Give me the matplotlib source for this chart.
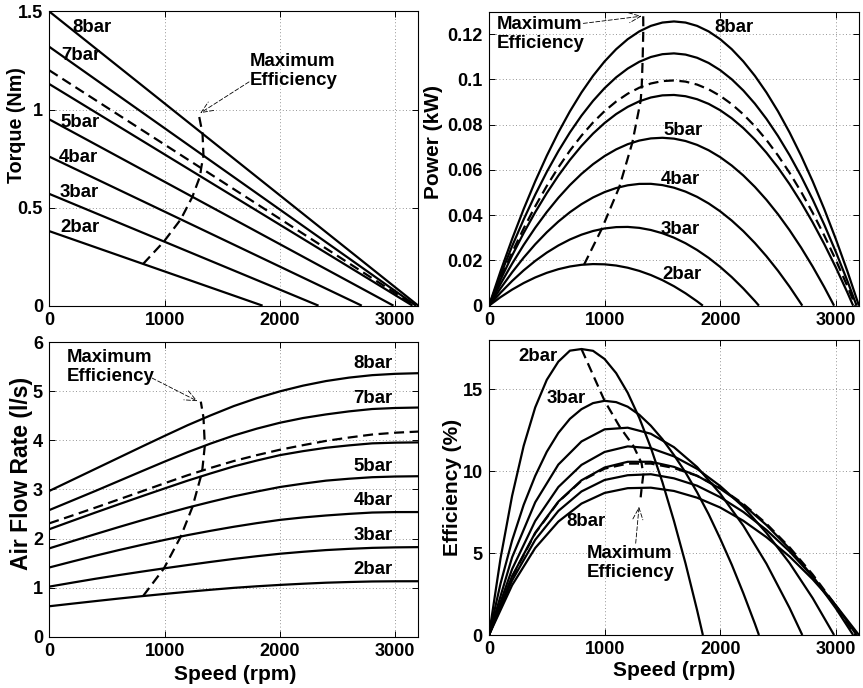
import matplotlib
matplotlib.use('Agg')
import matplotlib.pyplot as plt
from matplotlib.ticker import FuncFormatter

plt.rcParams['font.family'] = ['Liberation Sans', 'DejaVu Sans']
plt.rcParams['font.weight'] = 'bold'

# curves: 2..8 bar, plus the dashed (rated) curve between 6bar and 7bar
curve_names = ['2bar', '3bar', '4bar', '5bar', '6bar', 'rated', '7bar', '8bar']
dashed_curve = 'rated'

# torque is a straight line from stall torque down to zero at free speed
stall_torque = [0.38, 0.57, 0.76, 0.95, 1.13, 1.20, 1.32, 1.50]   # Nm at 0 rpm
free_speed = [1850, 2335, 2710, 2985, 3150, 3170, 3180, 3200]     # rpm at 0 Nm

# power (kW) sampled every 100 rpm, last point is the free speed
power_step = 100
power_kw = [
    [0, .00377, .00710, .01001, .01248, .01452, .01613, .01732, .01807, .01839, .01828,
     .01775, .01678, .01538, .01355, .01129, .00860, .00548, .00193, 0],
    [0, .00572, .01092, .01561, .01979, .02346, .02661, .02926, .03139, .03302, .03413,
     .03473, .03482, .03440, .03346, .03202, .03007, .02760, .02462, .02113, .01713,
     .01262, .00759, .00206, 0],
    [0, .00766, .01474, .02123, .02714, .03245, .03718, .04132, .04488, .04784, .05022,
     .05201, .05322, .05384, .05387, .05331, .05216, .05043, .04811, .04520, .04171,
     .03762, .03295, .02769, .02185, .01542, .00840, .00079, 0],
    [0, .00961, .01856, .02684, .03446, .04141, .04769, .05331, .05826, .06254, .06615,
     .06910, .07139, .07300, .07395, .07423, .07385, .07280, .07109, .06871, .06566,
     .06194, .05756, .05251, .04680, .04042, .03337, .02565, .01727, .00822, 0],
    [0, .01146, .02216, .03212, .04132, .04977, .05747, .06442, .07062, .07607, .08076,
     .08471, .08790, .09035, .09204, .09298, .09316, .09260, .09128, .08922, .08640,
     .08283, .07851, .07344, .06761, .06104, .05372, .04564, .03681, .02724, .01691,
     .00582, 0],
    [0, .01217, .02355, .03413, .04392, .05292, .06112, .06854, .07516, .08099, .08602,
     .09026, .09371, .09637, .09823, .09930, .09957, .09906, .09775, .09565, .09276,
     .08907, .08459, .07932, .07326, .06640, .05875, .05031, .04107, .03104, .02022,
     .00860, 0],
    [0, .01359, .02630, .03813, .04907, .05913, .06830, .07659, .08400, .09053, .09618,
     .10095, .10483, .10783, .10994, .11118, .11154, .11101, .10960, .10730, .10412,
     .10007, .09513, .08930, .08259, .07500, .06653, .05718, .04694, .03582, .02382,
     .01094, 0],
    [0, .01522, .02945, .04271, .05498, .06627, .07658, .08591, .09425, .10161, .10799,
     .11339, .11781, .12125, .12370, .12517, .12566, .12517, .12370, .12125, .11781,
     .11339, .10799, .10161, .09425, .08591, .07658, .06627, .05498, .04271, .02945,
     .01522, 0],
]

# air flow (l/s) sampled every 200 rpm from 0 to 3200
flow_step = 200
air_flow = [
    [0.62, 0.673, 0.725, 0.776, 0.825, 0.871, 0.915, 0.956, 0.995, 1.027, 1.055, 1.079,
     1.100, 1.114, 1.125, 1.129, 1.130],
    [1.02, 1.101, 1.180, 1.254, 1.325, 1.394, 1.460, 1.524, 1.585, 1.640, 1.690, 1.730,
     1.765, 1.790, 1.810, 1.820, 1.825],
    [1.41, 1.532, 1.650, 1.763, 1.870, 1.972, 2.070, 2.158, 2.240, 2.314, 2.380, 2.430,
     2.470, 2.503, 2.530, 2.539, 2.540],
    [1.80, 1.946, 2.090, 2.232, 2.370, 2.502, 2.630, 2.748, 2.860, 2.958, 3.050, 3.119,
     3.180, 3.219, 3.250, 3.264, 3.270],
    [2.19, 2.361, 2.530, 2.696, 2.860, 3.021, 3.180, 3.328, 3.470, 3.590, 3.700, 3.781,
     3.850, 3.899, 3.940, 3.954, 3.960],
    [2.31, 2.469, 2.630, 2.795, 2.960, 3.127, 3.290, 3.440, 3.580, 3.700, 3.810, 3.903,
     3.990, 4.059, 4.120, 4.157, 4.180],
    [2.58, 2.775, 2.970, 3.170, 3.370, 3.568, 3.760, 3.937, 4.100, 4.240, 4.360, 4.456,
     4.530, 4.592, 4.640, 4.661, 4.670],
    [2.97, 3.195, 3.420, 3.645, 3.870, 4.092, 4.310, 4.511, 4.700, 4.861, 5.000, 5.116,
     5.210, 5.280, 5.330, 5.357, 5.370],
]

# efficiency (%) sampled every eff_step rpm, last point is the free speed
eff_step = [100, 100, 200, 200, 200, 200, 200, 200]
efficiency = [
    [0, 4.68, 8.49, 11.54, 13.89, 15.57, 16.68, 17.35, 17.45, 17.34, 16.84, 15.98, 14.78,
     13.25, 11.43, 9.33, 6.96, 4.37, 1.52, 0],
    [0, 3.14, 5.77, 7.94, 9.71, 11.18, 12.33, 13.19, 13.78, 14.15, 14.29, 14.21, 13.93,
     13.44, 12.77, 11.95, 10.98, 9.92, 8.71, 7.37, 5.88, 4.29, 2.55, 0.69, 0],
    [0, 4.74, 8.10, 10.40, 11.81, 12.55, 12.65, 12.28, 11.46, 10.25, 8.63, 6.67, 4.35, 1.65, 0],
    [0, 4.02, 6.96, 9.03, 10.38, 11.17, 11.51, 11.40, 10.90, 10.14, 9.09, 7.82, 6.23, 4.39,
     2.25, 0],
    [0, 3.59, 6.24, 8.14, 9.44, 10.22, 10.57, 10.57, 10.26, 9.72, 8.93, 7.94, 6.71, 5.27,
     3.57, 1.63, 0],
    [0, 3.54, 6.21, 8.12, 9.41, 10.15, 10.46, 10.46, 10.19, 9.71, 8.98, 8.00, 6.79, 5.35,
     3.69, 1.80, 0],
    [0, 3.33, 5.81, 7.57, 8.76, 9.46, 9.75, 9.81, 9.56, 9.11, 8.41, 7.51, 6.41, 5.10, 3.56,
     1.80, 0],
    [0, 3.04, 5.31, 6.92, 8.02, 8.67, 8.96, 8.99, 8.79, 8.38, 7.78, 6.97, 5.97, 4.79, 3.40,
     1.81, 0],
]

# maximum efficiency locus
maxeff_torque_speed = [814, 994, 1140, 1241, 1308, 1317, 1337, 1329, 1300]
maxeff_torque = [0.213, 0.327, 0.440, 0.555, 0.661, 0.701, 0.765, 0.877, 0.964]
maxeff_power_speed = [822, 975, 1127, 1240, 1312, 1321, 1329, 1335, 1333]
maxeff_power = [0.0181, 0.0339, 0.0524, 0.0721, 0.0906, 0.0968, 0.1085, 0.1222, 0.1340]
maxeff_flow_speed = [814, 994, 1140, 1241, 1314, 1328, 1349, 1337, 1314]
maxeff_flow = [0.83, 1.39, 2.04, 2.64, 3.26, 3.42, 3.90, 4.47, 4.79]
maxeff_eff_speed = [800, 1000, 1133, 1250, 1312, 1320, 1335, 1321, 1312]
maxeff_eff = [17.45, 14.29, 12.68, 11.53, 10.60, 10.48, 9.80, 9.00, 8.40]

speed_ticks = [0, 1000, 2000, 3000]

TICK_SIZE = 13.1
TEXT_SIZE = 13.4
LINE_W = 1.6
DASH = (0, (4.5, 2.5))


def sampled_speeds(values, step, last):
    return [i * step for i in range(len(values) - 1)] + [last]


def style_axes(ax, ylim, yticks):
    ax.set_xlim(0, 3200)
    ax.set_ylim(*ylim)
    ax.set_xticks(speed_ticks)
    ax.set_yticks(yticks)
    ax.yaxis.set_major_formatter(FuncFormatter(lambda v, p: '%g' % v))
    ax.xaxis.set_major_formatter(FuncFormatter(lambda v, p: '%g' % v))
    ax.tick_params(direction='in', length=4, width=0.7, top=True, right=True,
                   labelsize=TICK_SIZE, pad=4.5)
    for lab in ax.get_xticklabels() + ax.get_yticklabels():
        lab.set_fontweight('bold')
    ax.grid(True, color='0.45', linestyle=(0, (1, 3)), linewidth=0.6)
    for sp in ax.spines.values():
        sp.set_linewidth(0.8)


def set_ylabel(ax, text, x, y, size):
    ax.set_ylabel(text, fontsize=size, fontweight='bold', va='center', ha='center')
    ax.yaxis.set_label_coords(x, y)


def set_xlabel(ax, x, y):
    ax.set_xlabel('Speed (rpm)', fontsize=15, fontweight='bold', va='center', ha='center')
    ax.xaxis.set_label_coords(x, y)


def draw(ax, xs, ys, name):
    ls = DASH if name == dashed_curve else '-'
    ax.plot(xs, ys, color='k', lw=LINE_W, linestyle=ls, solid_capstyle='butt')


def put_labels(ax, labels):
    for text, x, y in labels:
        ax.text(x, y, text, fontsize=TEXT_SIZE, fontweight='bold', ha='left', va='center')


def max_eff_note(ax, text_xy, start, tip):
    ax.text(text_xy[0], text_xy[1], 'Maximum\nEfficiency', fontsize=TEXT_SIZE,
            fontweight='bold', ha='left', va='center', linespacing=1.15)
    ax.annotate('', xy=tip, xytext=start,
                arrowprops=dict(arrowstyle='->,head_length=0.7,head_width=0.3',
                                color='k', lw=0.6, linestyle=(0, (5, 2.5)),
                                shrinkA=0, shrinkB=0, mutation_scale=12))


fig = plt.figure(figsize=(8.63, 6.88), dpi=100)
ax_t = fig.add_axes([0.0571, 0.5557, 0.4276, 0.4276])
ax_p = fig.add_axes([0.5666, 0.5557, 0.4287, 0.4274])
ax_q = fig.add_axes([0.0571, 0.0746, 0.4276, 0.4279])
ax_e = fig.add_axes([0.5666, 0.0770, 0.4287, 0.4288])

# torque
for name, t0, n0 in zip(curve_names, stall_torque, free_speed):
    draw(ax_t, [0, n0], [t0, 0], name)
ax_t.plot(maxeff_torque_speed, maxeff_torque, color='k', lw=LINE_W, linestyle=DASH)
style_axes(ax_t, (0, 1.5), [0, 0.5, 1, 1.5])
set_ylabel(ax_t, 'Torque (Nm)', -0.088, 0.615, 14.2)
put_labels(ax_t, [('8bar', 202, 1.418), ('7bar', 107, 1.277), ('5bar', 101, 0.934),
                  ('4bar', 84, 0.756), ('3bar', 87, 0.576), ('2bar', 92, 0.399)])
max_eff_note(ax_t, (1735, 1.197), (1732, 1.141), (1309, 0.982))

# power
for name, vals, n0 in zip(curve_names, power_kw, free_speed):
    draw(ax_p, sampled_speeds(vals, power_step, n0), vals, name)
ax_p.plot(maxeff_power_speed, maxeff_power, color='k', lw=LINE_W, linestyle=DASH)
style_axes(ax_p, (0, 0.13), [0, 0.02, 0.04, 0.06, 0.08, 0.1, 0.12])
set_ylabel(ax_p, 'Power (kW)', -0.149, 0.555, 15)
put_labels(ax_p, [('8bar', 1946, 0.1231), ('5bar', 1508, 0.0774), ('4bar', 1485, 0.0556),
                  ('3bar', 1485, 0.0338), ('2bar', 1499, 0.0139)])
max_eff_note(ax_p, (66, 0.1200), (816, 0.1248), (1321, 0.1280))

# air flow
for name, vals in zip(curve_names, air_flow):
    draw(ax_q, [i * flow_step for i in range(len(vals))], vals, name)
ax_q.plot(maxeff_flow_speed, maxeff_flow, color='k', lw=LINE_W, linestyle=DASH)
style_axes(ax_q, (0, 6), [0, 1, 2, 3, 4, 5, 6])
set_ylabel(ax_q, 'Air Flow Rate (l/s)', -0.075, 0.553, 16.5)
set_xlabel(ax_q, 0.503, -0.13)
put_labels(ax_q, [('8bar', 2637, 5.57), ('7bar', 2637, 4.86), ('5bar', 2637, 3.46),
                  ('4bar', 2637, 2.77), ('3bar', 2637, 2.07), ('2bar', 2637, 1.37)])
max_eff_note(ax_q, (150, 5.495), (892, 5.27), (1285, 4.80))

# efficiency
for name, vals, n0, step in zip(curve_names, efficiency, free_speed, eff_step):
    draw(ax_e, sampled_speeds(vals, step, n0), vals, name)
ax_e.plot(maxeff_eff_speed, maxeff_eff, color='k', lw=LINE_W, linestyle=DASH)
style_axes(ax_e, (0, 18), [0, 5, 10, 15])
set_ylabel(ax_e, 'Efficiency (%)', -0.0986, 0.50, 15)
set_xlabel(ax_e, 0.4995, -0.119)
put_labels(ax_e, [('2bar', 254, 17.0), ('3bar', 499, 14.41), ('8bar', 666, 6.92)])
max_eff_note(ax_e, (850, 4.395), (1269, 5.6), (1298, 7.83))

fig.savefig('out.png', dpi=100)
